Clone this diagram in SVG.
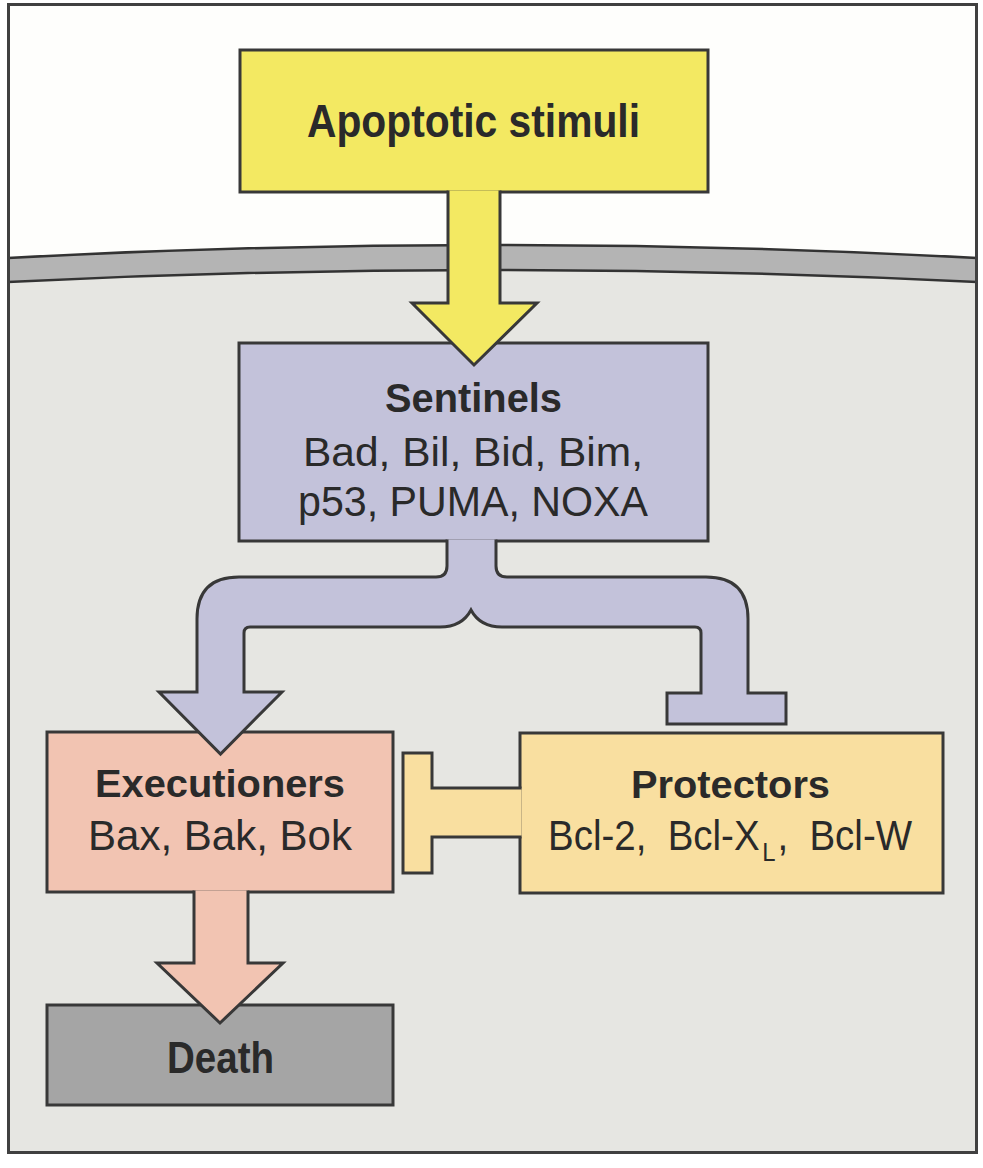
<svg xmlns="http://www.w3.org/2000/svg" width="983" height="1168" viewBox="0 0 983 1168">
<style>
.ln{stroke:#383838;stroke-width:3;stroke-linejoin:miter}
.t{font-family:"Liberation Sans",Arial,sans-serif;fill:#2a2a2a;text-anchor:middle}
.b{font-weight:bold}
</style>
<rect x="0" y="0" width="983" height="1168" fill="#ffffff"/>
<g id="cell">
<rect x="8.5" y="4.5" width="968" height="1148" fill="#fefefc"/>
<path d="M8,282 Q493,258 977,282 L977,1153 L8,1153 Z" fill="#e6e6e2"/>
<path d="M8,258 Q493,232 977,258 L977,282 Q493,258 8,282 Z" fill="#b4b4b4"/>
<path d="M8,258 Q493,232 977,258 M8,282 Q493,258 977,282" fill="none" stroke="#333" stroke-width="2.5"/>
<rect x="8.5" y="4.5" width="968" height="1148" fill="none" stroke="#404040" stroke-width="3"/>
</g>
<g id="stimuli">
<rect class="ln" x="240" y="50" width="468" height="142" fill="#f3e962"/>
<text class="t b" x="473.5" y="137" font-size="46" textLength="333" lengthAdjust="spacingAndGlyphs">Apoptotic stimuli</text>
</g>
<g id="sentinels">
<rect class="ln" x="239" y="343" width="469" height="198" fill="#c3c2da"/>
<text class="t b" x="473.5" y="412" font-size="40" textLength="177" lengthAdjust="spacingAndGlyphs">Sentinels</text>
<text class="t" x="473" y="466" font-size="41" textLength="340" lengthAdjust="spacingAndGlyphs">Bad, Bil, Bid, Bim,</text>
<text class="t" x="473" y="516" font-size="42" textLength="350" lengthAdjust="spacingAndGlyphs">p53, PUMA, NOXA</text>
</g>
<g id="death">
<rect class="ln" x="47" y="1005" width="346" height="100" fill="#a5a5a5"/>
<text class="t b" x="220.5" y="1073" font-size="44" textLength="107" lengthAdjust="spacingAndGlyphs">Death</text>
</g>
<g id="executioners">
<rect class="ln" x="47" y="732" width="346" height="160" fill="#f2c4b2"/>
<text class="t b" x="220" y="797" font-size="38" textLength="250" lengthAdjust="spacingAndGlyphs">Executioners</text>
<text class="t" x="220" y="850" font-size="42" textLength="264" lengthAdjust="spacingAndGlyphs">Bax, Bak, Bok</text>
</g>
<g id="protectors">
<rect class="ln" x="520" y="733" width="423" height="160" fill="#f9dfa0"/>
<text class="t b" x="730.5" y="798" font-size="38" textLength="199" lengthAdjust="spacingAndGlyphs">Protectors</text>
<text class="t" x="730" y="850" font-size="42" textLength="364" lengthAdjust="spacingAndGlyphs">Bcl-2,&#160; Bcl-X<tspan font-size="26" dx="3" dy="11">L</tspan><tspan dx="2" dy="-11">,&#160; Bcl-W</tspan></text>
</g>
<g id="connectors">
<path class="ln" d="M448,190.5 L448,303 L412,303 L474,365 L537,303 L500,303 L500,190.5" fill="#f3e962"/>
<path class="ln" d="M447,539.5 L447,566 Q447,577 436,577 L239,577 Q197,577 197,619 L197,692 L159,692 L220.5,754 L282,692 L244,692 L244,633 Q244,627 250,627 L440,627 Q462,627 471,610 Q480,627 502,627 L695,627 Q701,627 701,633 L701,693 L667,693 L667,724 L786,724 L786,693 L748,693 L748,619 Q748,577 706,577 L507,577 Q496,577 496,566 L496,539.5" fill="#c3c2da"/>
<path class="ln" d="M194,890.5 L194,963 L157,963 L220,1023 L283,963 L248,963 L248,890.5" fill="#f2c4b2"/>
<path class="ln" d="M521.5,788 L432,788 L432,753 L403,753 L403,873 L432,873 L432,837 L521.5,837" fill="#f9dfa0"/>
</g>
</svg>
